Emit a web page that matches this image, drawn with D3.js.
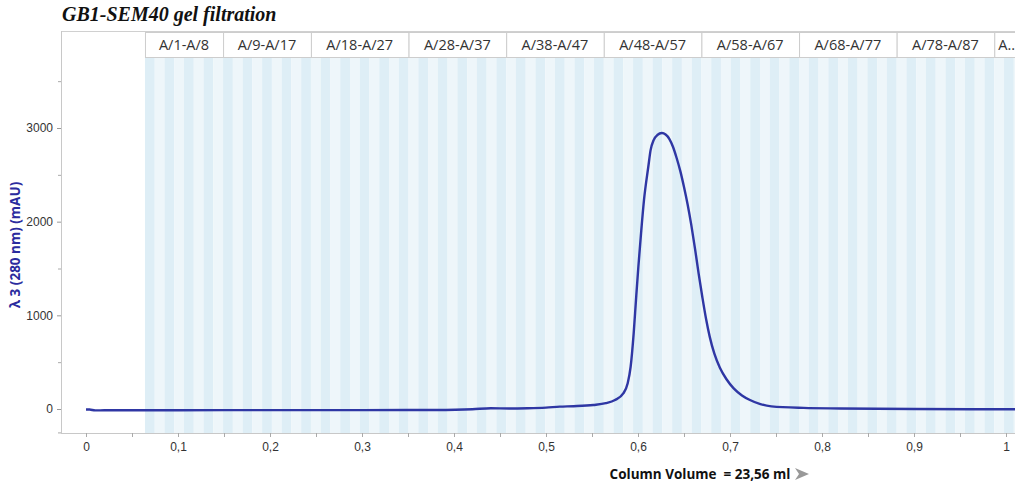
<!DOCTYPE html>
<html>
<head>
<meta charset="utf-8">
<script src="https://cdn.jsdelivr.net/npm/d3@7"></script>
<style>
  body { margin: 0; background: #fff; }
  svg { display: block; font-family: "Open Sans", "Noto Sans", sans-serif; }
  .tick text { fill: #333; font-size: 12px; }
</style>
</head>
<body>
<svg id="chart" width="1024" height="488"></svg>
<script>
// chromatogram: column volume (CV) vs absorbance at 280 nm (mAU)
const cv = [0, 0.004, 0.01, 0.02, 0.1, 0.2, 0.3, 0.38, 0.42, 0.44, 0.46, 0.48, 0.5, 0.515, 0.53,
  0.5515, 0.565, 0.575, 0.584, 0.5888, 0.592, 0.5953, 0.5978, 0.6004, 0.6033, 0.6065, 0.6112,
  0.6137, 0.617, 0.621, 0.626, 0.630, 0.634, 0.638, 0.642, 0.646, 0.650, 0.654, 0.658, 0.662,
  0.666, 0.670, 0.674, 0.678, 0.683, 0.689, 0.696, 0.704, 0.713, 0.7217, 0.733, 0.745,
  0.78, 0.82, 0.9, 1.0, 1.012];
const mau = [-5, -6, -15, -14, -13, -12, -12, -10, -2, 8, 5, 8, 15, 25, 30,
  43, 62, 96, 167, 274, 451, 808, 1163, 1519, 1875, 2230, 2586,
  2764, 2871, 2925, 2946, 2930, 2885, 2800, 2680, 2540, 2370, 2180, 1960, 1710,
  1440, 1190, 960, 770, 590, 440, 320, 220, 145, 96, 52, 28,
  12, 6, 0, -3, -3];

// fraction collection
const fractionStartCV = 0.0641;
const fractionCV = 0.25 / 23.56;
const fractionCount = 90;
const fractionGroups = ["A/1-A/8", "A/9-A/17", "A/18-A/27", "A/28-A/37", "A/38-A/47",
  "A/48-A/57", "A/58-A/67", "A/68-A/77", "A/78-A/87", "A..."];
const groupFirst = [1, 9, 18, 28, 38, 48, 58, 68, 78, 88];
const groupLast = [8, 17, 27, 37, 47, 57, 67, 77, 87, 97];

const xTicks = d3.range(0, 1.0001, 0.1);
const xMinorTicks = d3.range(0, 1.0001, 0.05);
const yTicks = [0, 1000, 2000, 3000];
const yMinorTicks = [-250, 500, 1500, 2500, 3500];

const plotLeft = 61, plotRight = 1015, plotTop = 31, plotBottom = 433;

const svg = d3.select("#chart");

const x = d3.scaleLinear().domain([0, 1]).range([86, 1006]);
const y = d3.scaleLinear().domain([0, 3000]).range([409, 128]);

svg.append("defs").append("clipPath").attr("id", "plotClip")
  .append("rect").attr("x", plotLeft).attr("y", plotTop)
  .attr("width", plotRight - plotLeft).attr("height", plotBottom - plotTop);

const plot = svg.append("g").attr("clip-path", "url(#plotClip)");

// fraction stripes
const fractions = d3.range(fractionCount).map(i => ({
  i,
  x0: fractionStartCV + i * fractionCV,
  x1: fractionStartCV + (i + 1) * fractionCV,
}));

plot.append("g")
  .selectAll("rect")
  .data(fractions)
  .enter()
  .append("rect")
  .attr("x", d => x(d.x0))
  .attr("y", 58)
  .attr("width", d => x(d.x1) - x(d.x0))
  .attr("height", plotBottom - 58)
  .attr("fill", d => d.i % 2 === 0 ? "#deeef6" : "#eef6fa");

// fraction header cells
const groups = fractionGroups.map((label, k) => ({
  label,
  x0: fractionStartCV + (groupFirst[k] - 1) * fractionCV,
  x1: fractionStartCV + groupLast[k] * fractionCV,
  last: k === fractionGroups.length - 1,
}));

const cells = plot.append("g")
  .selectAll("g")
  .data(groups)
  .enter()
  .append("g");

cells.append("rect")
  .attr("x", d => x(d.x0) + 0.5)
  .attr("y", 32.5)
  .attr("width", d => x(d.x1) - x(d.x0))
  .attr("height", 25)
  .attr("fill", "#fff")
  .attr("stroke", "#cdcdcd");

cells.append("text")
  .attr("x", d => d.last ? x(d.x0) + 4 : (x(d.x0) + x(d.x1)) / 2)
  .attr("y", 50)
  .attr("text-anchor", d => d.last ? "start" : "middle")
  .attr("fill", "#333")
  .style("font-size", "14.5px")
  .text(d => d.label);

// curve
const points = cv.map((v, i) => [v, mau[i]]);
plot.append("path")
  .datum(points)
  .attr("fill", "none")
  .attr("stroke", "#2f37a4")
  .attr("stroke-width", 2.4)
  .attr("stroke-linejoin", "round")
  .attr("d", d3.line().x(d => x(d[0])).y(d => y(d[1])).curve(d3.curveMonotoneX));

// frame lines
svg.append("line").attr("x1", plotLeft).attr("x2", plotRight).attr("y1", plotTop + 0.5).attr("y2", plotTop + 0.5)
  .attr("stroke", "#d0d0d0");
svg.append("line").attr("x1", plotLeft + 0.5).attr("x2", plotLeft + 0.5).attr("y1", plotTop).attr("y2", plotBottom)
  .attr("stroke", "#c8c8c8");
svg.append("line").attr("x1", plotLeft).attr("x2", plotRight).attr("y1", plotBottom + 0.5).attr("y2", plotBottom + 0.5)
  .attr("stroke", "#c8c8c8");

// x axis
const fmt = d => d3.format(".1~f")(d).replace(".", ",");
const xAxis = svg.append("g").attr("transform", `translate(0,${plotBottom})`)
  .call(d3.axisBottom(x).tickValues(xMinorTicks).tickSize(4).tickFormat(() => ""));
xAxis.select(".domain").remove();
xAxis.selectAll("line").attr("stroke", "#aaa");

const xLab = svg.append("g").attr("transform", `translate(0,${plotBottom})`)
  .call(d3.axisBottom(x).tickValues(xTicks).tickSize(0).tickPadding(9).tickFormat(fmt));
xLab.select(".domain").remove();

// y axis
const yAxis = svg.append("g").attr("transform", `translate(${plotLeft},0)`)
  .call(d3.axisLeft(y).tickValues(yTicks).tickSize(4).tickPadding(4).tickFormat(d3.format("d")));
yAxis.select(".domain").remove();
yAxis.selectAll("line").attr("stroke", "#999");

const yMinor = svg.append("g").attr("transform", `translate(${plotLeft},0)`)
  .call(d3.axisLeft(y).tickValues(yMinorTicks).tickSize(3).tickFormat(() => ""));
yMinor.select(".domain").remove();
yMinor.selectAll("line").attr("stroke", "#aaa");

// titles
svg.append("text")
  .attr("x", 62).attr("y", 21)
  .style("font-family", "'Liberation Serif', 'DejaVu Serif', serif")
  .style("font-weight", "bold").style("font-style", "italic").style("font-size", "20px")
  .attr("fill", "#111")
  .text("GB1-SEM40 gel filtration");

svg.append("text")
  .attr("transform", "translate(20,245) rotate(-90)")
  .attr("text-anchor", "middle")
  .style("font-weight", "bold").style("font-size", "13.5px")
  .attr("fill", "#2b2b9e")
  .text("λ 3 (280 nm) (mAU)");

svg.append("text")
  .attr("x", 700).attr("y", 479)
  .attr("text-anchor", "middle")
  .style("font-weight", "bold").style("font-size", "13.5px")
  .attr("fill", "#111")
  .style("white-space", "pre")
  .text("Column Volume  = 23,56 ml");

svg.append("path")
  .attr("d", "M795,468 L809,474 L795,480 L799,474 Z")
  .attr("fill", "#999");
</script>
</body>
</html>
